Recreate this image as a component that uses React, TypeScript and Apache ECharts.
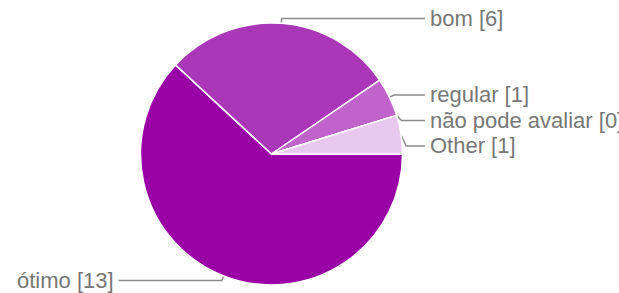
import React, { useEffect, useRef } from "react";
import * as echarts from "echarts";

const categories = ["ótimo", "bom", "regular", "não pode avaliar", "Other"];
const values = [13, 6, 1, 0, 1];
const colors = ["#9900a6", "#aa36b8", "#c064cc", "#d896e0", "#e8c8ee"];

export default function App() {
  const ref = useRef<HTMLDivElement>(null);
  useEffect(() => {
    if (!ref.current) return;
    const chart = echarts.init(ref.current, undefined, { renderer: "svg" });
    const data = categories.map((name, i) => {
      const isLeft = i === 0;
      return {
        name,
        value: values[i],
        itemStyle: { color: colors[i] },
        label: isLeft
          ? { alignTo: "edge", edgeDistance: 17 }
          : { alignTo: "labelLine" },
      };
    });
    chart.setOption({
      animation: false,
      series: [
        {
          type: "pie",
          center: [271.5, 154],
          radius: 131,
          startAngle: 0,
          clockwise: true,
          avoidLabelOverlap: true,
          itemStyle: { borderColor: "#ffffff", borderWidth: 1.5 },
          label: {
            show: true,
            position: "outer",
            formatter: "{b} [{c}]",
            color: "#777777",
            fontFamily: "'Liberation Sans', Arial, sans-serif",
            fontSize: 22,
            lineHeight: 23.5,
            overflow: "none",
            distanceToLabelLine: 5,
            bleedMargin: 0,
          },
          labelLine: {
            show: true,
            length: 5,
            length2: 19,
            lineStyle: { color: "#8c8c8c", width: 1.5 },
          },
          emphasis: { disabled: true },
          data,
        },
      ],
    });
    return () => chart.dispose();
  }, []);
  return (
    <div
      ref={ref}
      style={{ position: "absolute", left: 0, top: 0, width: 619, height: 293 }}
    />
  );
}
